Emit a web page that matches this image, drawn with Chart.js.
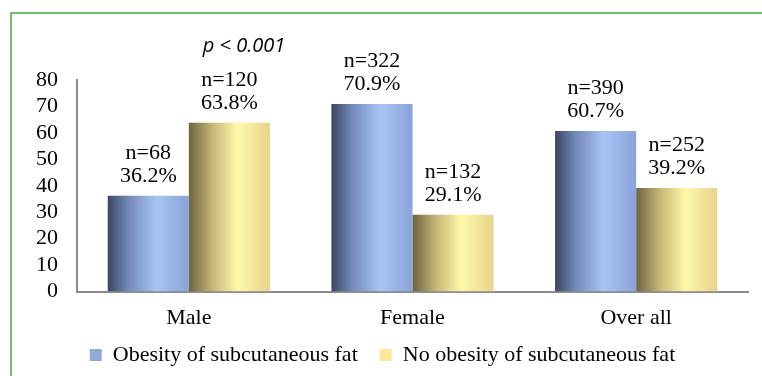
<!DOCTYPE html>
<html>
<head>
<meta charset="utf-8">
<script src="https://cdn.jsdelivr.net/npm/chart.js@4"></script>
<style>
  body { margin: 0; background: #fff; }
  #frame {
    position: absolute; left: 10px; top: 12px; width: 760px; height: 380px;
    border-left: 2px solid #6cc070; border-top: 2px solid #6cc070;
  }
  #wrap { position: absolute; left: 0; top: 0; width: 762px; height: 376px; }
</style>
</head>
<body>
<div id="frame"></div>
<div id="wrap"><canvas id="obesityChart" width="762" height="376"></canvas></div>
<script>
const categories = ['Male', 'Female', 'Over all'];
const obesityPct = [36.2, 70.9, 60.7];
const obesityN = [68, 322, 390];
const noObesityPct = [63.8, 29.1, 39.2];
const noObesityN = [120, 132, 252];
const yTicks = [0, 10, 20, 30, 40, 50, 60, 70, 80];

const serif = '"Liberation Serif", "Times New Roman", serif';

// cylinder-like shading for each bar
const barGradient = (stops) => (context) => {
    const chart = context.chart;
    if (!chart.chartArea || context.type !== 'data') return stops[2][1];
    const xs = chart.scales.x;
    const center = xs.getPixelForValue(context.dataIndex);
    const w = xs.width / categories.length * 0.725 / 2;
    const left = context.datasetIndex === 0 ? center - w : center;
    const g = chart.ctx.createLinearGradient(left, 0, left + w, 0);
    stops.forEach(s => g.addColorStop(s[0], s[1]));
    return g;
};

const blueStops = [[0, '#3b4660'], [0.25, '#7388b8'], [0.6, '#a8c4f6'], [1, '#8aa2d8']];
const yellowStops = [[0, '#6e6440'], [0.3, '#c8b878'], [0.6, '#fff8a8'], [1, '#e6d48c']];

const labelPlugin = {
    id: 'barLabels',
    afterDatasetsDraw(chart) {
        const ctx = chart.ctx;
        ctx.save();
        ctx.font = '22px ' + serif;
        ctx.fillStyle = '#000';
        ctx.textAlign = 'center';
        ctx.textBaseline = 'alphabetic';
        const counts = [obesityN, noObesityN];
        chart.data.datasets.forEach((ds, di) => {
            chart.getDatasetMeta(di).data.forEach((bar, i) => {
                ctx.fillText(ds.data[i].toFixed(1) + '%', bar.x, bar.y - 14);
                ctx.fillText('n=' + counts[di][i], bar.x, bar.y - 37);
            });
        });
        ctx.font = 'italic 20px "Open Sans", "Liberation Sans", sans-serif';
        ctx.fillText('p < 0.001', 244, 52);
        ctx.restore();
    }
};

const renderObesityChart = () => {
    var ctx = document.getElementById('obesityChart').getContext('2d');
    new Chart(ctx, {
        type: 'bar',
        data: {
            labels: categories,
            datasets: [{
                label: 'Obesity of subcutaneous fat',
                data: obesityPct,
                backgroundColor: barGradient(blueStops),
                borderWidth: 0,
            }, {
                label: 'No obesity of subcutaneous fat',
                data: noObesityPct,
                backgroundColor: barGradient(yellowStops),
                borderWidth: 0,
            }],
        },
        options: {
            responsive: false,
            animation: false,
            layout: { padding: { left: 17, right: 14, top: 80, bottom: 0 } },
            datasets: { bar: { barPercentage: 1, categoryPercentage: 0.725 } },
            scales: {
                x: {
                    grid: { display: false, drawTicks: false },
                    border: { color: '#8c8c8c', width: 2 },
                    ticks: { color: '#000', font: { family: serif, size: 22 }, padding: 13 },
                },
                y: {
                    min: 0, max: 80,
                    afterBuildTicks: (axis) => { axis.ticks = yTicks.map(v => ({ value: v })); },
                    grid: { display: false, drawTicks: false },
                    border: { color: '#8c8c8c', width: 2 },
                    ticks: { color: '#000', font: { family: serif, size: 22 }, padding: 19, autoSkip: false },
                },
            },
            plugins: {
                legend: {
                    position: 'bottom',
                    labels: {
                        color: '#000',
                        font: { family: serif, size: 22 },
                        boxWidth: 12, boxHeight: 12, padding: 0,
                        generateLabels: () => [
                            { text: 'Obesity of subcutaneous fat    ', fillStyle: '#8eaadb', strokeStyle: '#8eaadb', lineWidth: 0, datasetIndex: 0 },
                            { text: 'No obesity of subcutaneous fat', fillStyle: '#ffe699', strokeStyle: '#ffe699', lineWidth: 0, datasetIndex: 1 },
                        ],
                    },
                },
                tooltip: { enabled: false },
            },
        },
        plugins: [labelPlugin],
    });
};

window.addEventListener('load', renderObesityChart);
</script>
</body>
</html>
